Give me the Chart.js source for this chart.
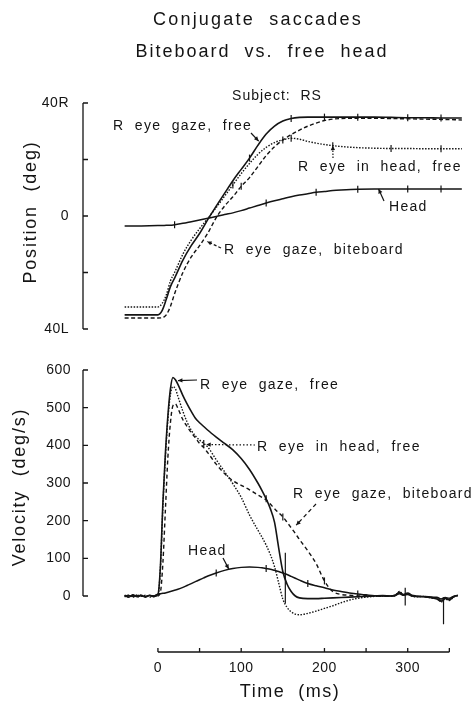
<!DOCTYPE html>
<html>
<head>
<meta charset="utf-8">
<title>Conjugate saccades</title>
<script src="https://cdn.jsdelivr.net/npm/chart.js@4.4.1/dist/chart.umd.min.js"></script>
<style>
  html, body { margin: 0; padding: 0; background: #fff; }
  #chart { display: block; }
</style>
</head>
<body>
<canvas id="chart" width="475" height="701"></canvas>
<script>
// --- data ---

// position panel (deg, + = right)
const posTime = [-40, -20, 0, 5, 10, 15, 20, 30, 40, 50, 60, 70, 80, 90, 100, 110, 120, 130, 140, 150, 160, 170, 180, 190, 200, 210, 220, 240, 260, 280, 300, 320, 340, 365];
const posGazeFree = [-35, -35, -35, -33.5, -29.5, -25, -22, -15.6, -10.5, -6.2, -1.2, 3.5, 8, 12.5, 16.5, 20.5, 25, 29, 31.8, 33.6, 34.5, 34.9, 35, 35, 35, 35, 35, 35, 35, 34.9, 34.8, 34.8, 34.7, 34.7];
const posEyeInHead = [-32.2, -32.2, -32.2, -31, -28, -23, -20, -13.5, -8.5, -4.5, -0.8, 3, 7, 11, 15, 18.6, 21.8, 24.3, 26, 27, 27.5, 27.2, 26.4, 25.8, 25.3, 24.9, 24.6, 24.2, 24, 23.9, 23.9, 23.8, 23.8, 23.8];
const posBiteboard = [-36.1, -36.1, -36.1, -36, -35, -32, -27.5, -20, -14.5, -10.5, -6, -0.6, 3.5, 6.8, 10.5, 13.6, 17.5, 21.4, 24.5, 26.9, 28.8, 30.4, 31.8, 32.9, 33.8, 34.3, 34.5, 34.6, 34.6, 34.5, 34.4, 34.3, 34.2, 34];
const posHead = [-3.5, -3.5, -3.4, -3.4, -3.3, -3.3, -3.1, -2.6, -2, -1.4, -0.8, -0.2, 0.5, 1.1, 1.9, 2.8, 3.7, 4.6, 5.4, 6.1, 6.8, 7.4, 7.9, 8.4, 8.7, 9, 9.2, 9.5, 9.6, 9.6, 9.6, 9.6, 9.6, 9.6];

// velocity panel (deg/s)
const velTime = [-40, -35, -30, -25, -20, -15, -10, -5, 0, 3, 6, 9, 12, 15, 18, 21, 24, 30, 35, 40, 45, 50, 55, 60, 70, 80, 90, 100, 110, 120, 125, 130, 135, 140, 145, 150, 155, 160, 165, 170, 180, 190, 200, 210, 220, 230, 240, 250, 260, 270, 280, 285, 290, 295, 300, 305, 310, 320, 330, 335, 340, 345, 350, 355, 360];
const velGazeFree = [2, -3, 3, -2, 2, -3, 2, -1, 4, 80, 250, 380, 480, 550, 580, 574, 562, 532, 510, 490, 472, 460, 450, 440, 422, 405, 388, 365, 336, 300, 280, 258, 232, 196, 128, 65, 32, 12, 0, -5, -7, -7, -6, -5, -4, -3, -2, -1, 0, 1, 0, 2, 10, 4, 8, 2, 0, -2, -5, -8, -14, -6, -10, -2, 2];
const velEyeInHead = [-2, 2, -3, 3, -1, 2, -3, 1, 3, 75, 240, 370, 470, 535, 556, 550, 530, 490, 462, 440, 425, 414, 405, 395, 362, 330, 298, 262, 215, 175, 156, 135, 110, 78, 35, -8, -30, -42, -48, -50, -46, -40, -33, -26, -18, -11, -6, -3, -1, 0, -1, 1, 12, 3, 7, 0, -2, -1, -6, -4, -16, -8, -12, -3, 1];
const velBiteboard = [1, -2, 2, -3, 3, -2, 1, -2, 0, 10, 90, 230, 370, 460, 505, 510, 498, 468, 450, 434, 420, 405, 394, 380, 350, 325, 306, 294, 282, 268, 262, 255, 244, 232, 221, 210, 196, 181, 166, 150, 120, 86, 40, 12, 4, 2, 0, 1, 0, -1, 0, 2, 9, 3, 6, 1, -1, -2, -4, -6, -12, -7, -9, -2, 2];
const velHead = [0, 1, -1, 1, 0, -1, 1, 0, 5, 6, 7, 8, 10, 12, 14, 16, 18, 23, 28, 33, 38, 43, 48, 53, 61, 68, 73, 76, 77, 76, 75, 73, 71, 68, 65, 61, 57, 52, 47, 42, 33, 27, 22, 16, 12, 8, 5, 3, 1, 0, 0, 1, 6, 2, 4, 0, -1, -1, -3, -3, -8, -4, -6, -1, 1];

// vertical timing spikes on the velocity traces
const spikeTime = [153, 297, 343];
const spikeTop = [115, 22, -3];
const spikeBottom = [-20, -25, -75];

// small time marks drawn across the traces
const posHeadMarks = [20, 130, 190, 240, 300, 340];
const posGazeMarks = [110, 160, 200, 240, 300, 340];
const posEyeMarks = [90, 160, 210, 280, 340];
const posBiteMarks = [100, 150];
const velHeadMarks = [70, 130, 180, 240];
const velGazeMarks = [130];
const velBiteMarks = [150, 200];
const velEyeMarks = [55];

// axis ticks
const posTicks = [-40, -20, 0, 20, 40];
const posTickLabels = ['40L', '', '0', '', '40R'];
const velTicks = [0, 100, 200, 300, 400, 500, 600];
const timeTicks = [0, 50, 100, 150, 200, 250, 300, 350];
const timeTickLabels = ['0', '', '100', '', '200', '', '300', ''];

// --- layout (pixels) ---
const plotLeft = 83, plotRight = 466, plotTop = 103, plotBottom = 652;
const posTopPx = 103, posBottomPx = 329;      // 40R .. 40L
const velTopPx = 370, velZeroPx = 596;        // 600 .. 0
const INK = '#141414';
const FONT = '"Liberation Sans", Arial, sans-serif';

const posPerPx = 80 / (posBottomPx - posTopPx);
const posMin = 40 - (plotBottom - plotTop) * posPerPx;
const velPerPx = 600 / (velZeroPx - velTopPx);
const velMin = -(plotBottom - velZeroPx) * velPerPx;
const velMax = velMin + (plotBottom - plotTop) * velPerPx;

function points(times, values) {
    return times.map((t, i) => ({ x: t, y: values[i] }));
}

function markRadius(times, marks) {
    return times.map(t => marks.includes(t) ? 3.5 : 0);
}

function trace(times, values, marks, axis, dash, width) {
    return {
        data: points(times, values),
        yAxisID: axis,
        borderColor: INK,
        borderWidth: width,
        borderDash: dash,
        cubicInterpolationMode: 'monotone',
        pointStyle: 'line',
        rotation: 90,
        pointRadius: markRadius(times, marks),
        pointBorderColor: INK,
        pointBorderWidth: 1.2,
        pointHoverRadius: 0
    };
}

function spikes() {
    const data = [];
    spikeTime.forEach((t, i) => {
        data.push({ x: t, y: spikeTop[i] });
        data.push({ x: t, y: spikeBottom[i] });
        data.push({ x: t, y: null });
    });
    return {
        data: data,
        yAxisID: 'yVel',
        borderColor: INK,
        borderWidth: 1.2,
        pointRadius: 0,
        spanGaps: false
    };
}

// labels with leader arrows: text pixel spot, arrow tip given in data units
const notes = [
    { text: 'R  eye  gaze,  free', x: 113, y: 126, from: [251, 133], tip: [121, 26.5], axis: 'yPos', dash: [] },
    { text: 'R  eye  in  head,  free', x: 298, y: 167, from: [333, 158], tip: [210, 24.9], axis: 'yPos', dash: [1.5, 1.5] },
    { text: 'Head', x: 389, y: 207, from: [384, 201], tip: [265, 9.6], axis: 'yPos', dash: [] },
    { text: 'R  eye  gaze,  biteboard', x: 224, y: 250, from: [221, 248], tip: [59, -9], axis: 'yPos', dash: [3, 2] },
    { text: 'R  eye  gaze,  free', x: 200, y: 385, from: [197, 380], tip: [24, 572], axis: 'yVel', dash: [] },
    { text: 'R  eye  in  head,  free', x: 257, y: 447, from: [255, 445], tip: [58, 402], axis: 'yVel', dash: [1.5, 2] },
    { text: 'R  eye  gaze,  biteboard', x: 293, y: 494, from: [316, 504], tip: [166, 188], axis: 'yVel', dash: [4, 3] },
    { text: 'Head', x: 188, y: 551, from: [223, 558], tip: [85, 72], axis: 'yVel', dash: [] }
];

function say(ctx, str, x, y, size, align, spacing) {
    ctx.font = size + 'px ' + FONT;
    ctx.letterSpacing = spacing + 'px';
    ctx.textAlign = align;
    ctx.textBaseline = 'middle';
    ctx.fillText(str, x, y);
}

function arrow(ctx, x1, y1, x2, y2, dash) {
    ctx.save();
    ctx.setLineDash(dash);
    ctx.beginPath();
    ctx.moveTo(x1, y1);
    ctx.lineTo(x2, y2);
    ctx.stroke();
    ctx.setLineDash([]);
    const a = Math.atan2(y2 - y1, x2 - x1);
    ctx.beginPath();
    ctx.moveTo(x2, y2);
    ctx.lineTo(x2 - 5 * Math.cos(a - 0.45), y2 - 5 * Math.sin(a - 0.45));
    ctx.lineTo(x2 - 5 * Math.cos(a + 0.45), y2 - 5 * Math.sin(a + 0.45));
    ctx.closePath();
    ctx.fill();
    ctx.restore();
}

const figurePlugin = {
    id: 'figure',
    afterDraw(chart) {
        const ctx = chart.ctx;
        const xs = chart.scales.x;
        const yp = chart.scales.yPos;
        const yv = chart.scales.yVel;
        ctx.save();
        ctx.fillStyle = INK;
        ctx.strokeStyle = INK;
        ctx.lineWidth = 1.3;

        // titles
        say(ctx, 'Conjugate  saccades', 258, 20, 18, 'center', 2.2);
        say(ctx, 'Biteboard  vs.  free  head', 262, 52, 18, 'center', 2);
        say(ctx, 'Subject:  RS', 277, 96, 14, 'center', 1);

        // position axis
        const ax = plotLeft;
        ctx.beginPath();
        ctx.moveTo(ax, yp.getPixelForValue(40));
        ctx.lineTo(ax, yp.getPixelForValue(-40));
        posTicks.forEach(v => {
            const py = yp.getPixelForValue(v);
            ctx.moveTo(ax, py);
            ctx.lineTo(ax + 5, py);
        });
        ctx.stroke();
        posTicks.forEach((v, i) => {
            if (posTickLabels[i]) say(ctx, posTickLabels[i], 69, yp.getPixelForValue(v), 14, 'right', 0.5);
        });

        // velocity axis
        ctx.beginPath();
        ctx.moveTo(ax, yv.getPixelForValue(600));
        ctx.lineTo(ax, yv.getPixelForValue(0));
        velTicks.forEach(v => {
            const py = yv.getPixelForValue(v);
            ctx.moveTo(ax, py);
            ctx.lineTo(ax + 5, py);
        });
        ctx.stroke();
        velTicks.forEach(v => say(ctx, String(v), 71, yv.getPixelForValue(v), 14, 'right', 0.5));

        // time axis
        const ty = plotBottom;
        ctx.beginPath();
        ctx.moveTo(xs.getPixelForValue(0), ty);
        ctx.lineTo(xs.getPixelForValue(350), ty);
        timeTicks.forEach(t => {
            const px = xs.getPixelForValue(t);
            ctx.moveTo(px, ty);
            ctx.lineTo(px, ty - 4);
        });
        ctx.stroke();
        timeTicks.forEach((t, i) => {
            if (timeTickLabels[i]) say(ctx, timeTickLabels[i], xs.getPixelForValue(t), 668, 14, 'center', 0.5);
        });

        // axis titles
        say(ctx, 'Time  (ms)', 290, 692, 18, 'center', 1.5);
        ctx.save();
        ctx.translate(31, 212);
        ctx.rotate(-Math.PI / 2);
        say(ctx, 'Position  (deg)', 0, 0, 18, 'center', 1.8);
        ctx.restore();
        ctx.save();
        ctx.translate(20, 487);
        ctx.rotate(-Math.PI / 2);
        say(ctx, 'Velocity  (deg/s)', 0, 0, 18, 'center', 1.8);
        ctx.restore();

        // trace labels
        ctx.lineWidth = 1.2;
        notes.forEach(n => {
            say(ctx, n.text, n.x, n.y, 14, 'left', 1.3);
            const sc = chart.scales[n.axis];
            arrow(ctx, n.from[0], n.from[1], xs.getPixelForValue(n.tip[0]), sc.getPixelForValue(n.tip[1]), n.dash);
        });
        ctx.restore();
    }
};

new Chart(document.getElementById('chart'), {
    type: 'line',
    data: {
        datasets: [
            trace(posTime, posHead, posHeadMarks, 'yPos', [], 1.5),
            trace(posTime, posEyeInHead, posEyeMarks, 'yPos', [1.5, 1.5], 1.4),
            trace(posTime, posBiteboard, posBiteMarks, 'yPos', [4, 2.5], 1.4),
            trace(posTime, posGazeFree, posGazeMarks, 'yPos', [], 1.6),
            trace(velTime, velHead, velHeadMarks, 'yVel', [], 1.5),
            trace(velTime, velEyeInHead, velEyeMarks, 'yVel', [1.5, 1.5], 1.4),
            trace(velTime, velBiteboard, velBiteMarks, 'yVel', [4, 3], 1.4),
            trace(velTime, velGazeFree, velGazeMarks, 'yVel', [], 1.6),
            spikes()
        ]
    },
    options: {
        responsive: false,
        animation: false,
        layout: {
            padding: { left: plotLeft, right: 475 - plotRight, top: plotTop, bottom: 701 - plotBottom }
        },
        plugins: {
            legend: { display: false },
            tooltip: { enabled: false }
        },
        scales: {
            x: { type: 'linear', min: -90, max: 370, display: false },
            yPos: { type: 'linear', min: posMin, max: 40, display: false },
            yVel: { type: 'linear', min: velMin, max: velMax, display: false }
        }
    },
    plugins: [figurePlugin]
});
</script>
</body>
</html>
